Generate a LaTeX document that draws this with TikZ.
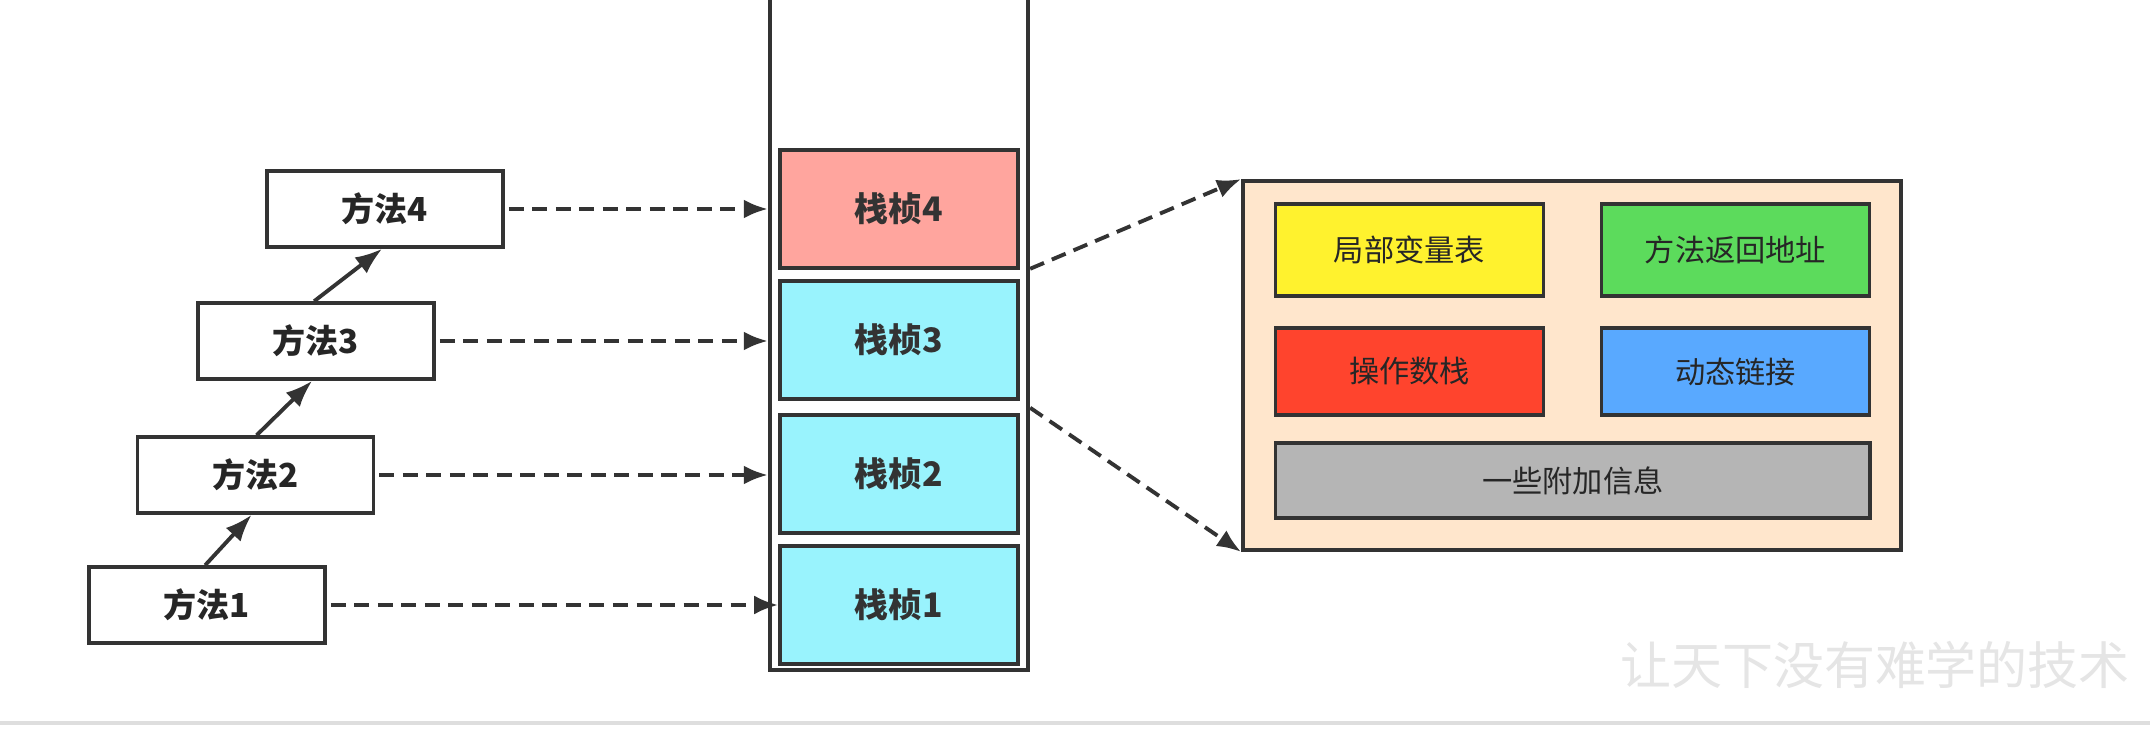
\documentclass[tikz,border=0pt]{standalone}
\usepackage{fontspec}
\setmainfont{Noto Sans CJK SC}
\usetikzlibrary{arrows.meta,calc}
\definecolor{edge}{HTML}{333333}
\definecolor{frame4}{HTML}{FFA59E}
\definecolor{frameC}{HTML}{99F3FD}
\definecolor{peach}{HTML}{FFE6CC}
\definecolor{cyel}{HTML}{FFF22E}
\definecolor{cgreen}{HTML}{5CDB5C}
\definecolor{cred}{HTML}{FF442D}
\definecolor{cblue}{HTML}{59A9FF}
\definecolor{cgray}{HTML}{B5B5B5}
\begin{document}
\begin{tikzpicture}[x=0.01cm,y=-0.01cm,
  methodbox/.style={draw=edge,line width=1pt,fill=white,minimum width=2.36cm,minimum height=0.76cm,inner sep=0pt,font=\fontsize{9.4}{10}\selectfont\bfseries,text=black!85},
  framebox/.style={draw=edge,line width=1pt,minimum width=2.38cm,minimum height=1.18cm,inner sep=0pt,font=\fontsize{9.6}{10}\selectfont\bfseries,text=edge},
  partbox/.style={draw=edge,line width=1pt,minimum width=2.68cm,minimum height=0.92cm,inner sep=0pt,font=\fontsize{8.6}{10}\selectfont,text=black!85},
  dasharrow/.style={draw=edge,line width=1.1pt,dash pattern=on 0.15cm off 0.085cm,-{Latex[length=0.24cm,width=0.19cm]}},
  solidarrow/.style={draw=edge,line width=1.1pt,-{Latex[length=0.27cm,width=0.2cm]}}
]
\useasboundingbox (0,0) rectangle (2150,740);
\fill[white] (0,0) rectangle (2150,740);
% bottom separator line
\draw[black!13,line width=1.2pt] (0,723) -- (2150,723);
% watermark
\node[text=black!10,font=\fontsize{14.5}{16}\selectfont,inner sep=0pt] (wm) at (1875,665) {让天下没有难学的技术};
% method boxes
\node[methodbox] (m4) at (385,209) {方法4};
\node[methodbox] (m3) at (316,341) {方法3};
\node[methodbox] (m2) at (255.5,475) {方法2};
\node[methodbox] (m1) at (207,605) {方法1};
% stack container
\node[draw=edge,line width=1.2pt,minimum width=2.58cm,minimum height=6.9cm,inner sep=0pt] (stack) at (899,325) {};
% frames
\node[framebox,fill=frame4] (f4) at (899,209) {栈桢4};
\node[framebox,fill=frameC] (f3) at (899,340) {栈桢3};
\node[framebox,fill=frameC] (f2) at (899,474) {栈桢2};
\node[framebox,fill=frameC] (f1) at (899,605) {栈桢1};
% detail box
\node[draw=edge,line width=1pt,fill=peach,minimum width=6.58cm,minimum height=3.69cm,inner sep=0pt] (detail) at (1572,365.5) {};
\node[partbox,fill=cyel] (pa) at (1409.5,250) {局部变量表};
\node[partbox,fill=cgreen] (pb) at (1735.5,250) {方法返回地址};
\node[partbox,fill=cred,minimum height=0.87cm] (pc) at (1409.5,371.5) {操作数栈};
\node[partbox,fill=cblue,minimum height=0.87cm] (pd) at (1735.5,371.5) {动态链接};
\node[partbox,fill=cgray,minimum width=5.94cm,minimum height=0.75cm] (pe) at (1572.75,480.7) {一些附加信息};
% solid arrows between methods
\draw[solidarrow] ($(m1.north west)+(118,0)$) -- ($(m2.south west)+(116,0)$);
\draw[solidarrow] ($(m2.north west)+(121,0)$) -- ($(m3.south west)+(116,0)$);
\draw[solidarrow] ($(m3.north west)+(118,0)$) -- ($(m4.south west)+(117,0)$);
% dashed arrows methods -> frames
\draw[dasharrow] ($(m4.east)+(4,0)$) -- (m4.east -| stack.west);
\draw[dasharrow] ($(m3.east)+(4,0)$) -- (m3.east -| stack.west);
\draw[dasharrow] ($(m2.east)+(4,0)$) -- (m2.east -| stack.west);
\draw[dasharrow] ($(m1.east)+(4,0)$) -- (m1.east -| f1.west);
% dashed arrows stack -> detail
\coordinate (s4) at ($(f4.south -| stack.east)+(0,-1)$);
\coordinate (s3) at ($(f3.south -| stack.east)+(0,7)$);
\draw[dasharrow] (s4) -- (detail.north west);
\draw[dasharrow] (s3) -- (detail.south west);
\end{tikzpicture}
\end{document}
